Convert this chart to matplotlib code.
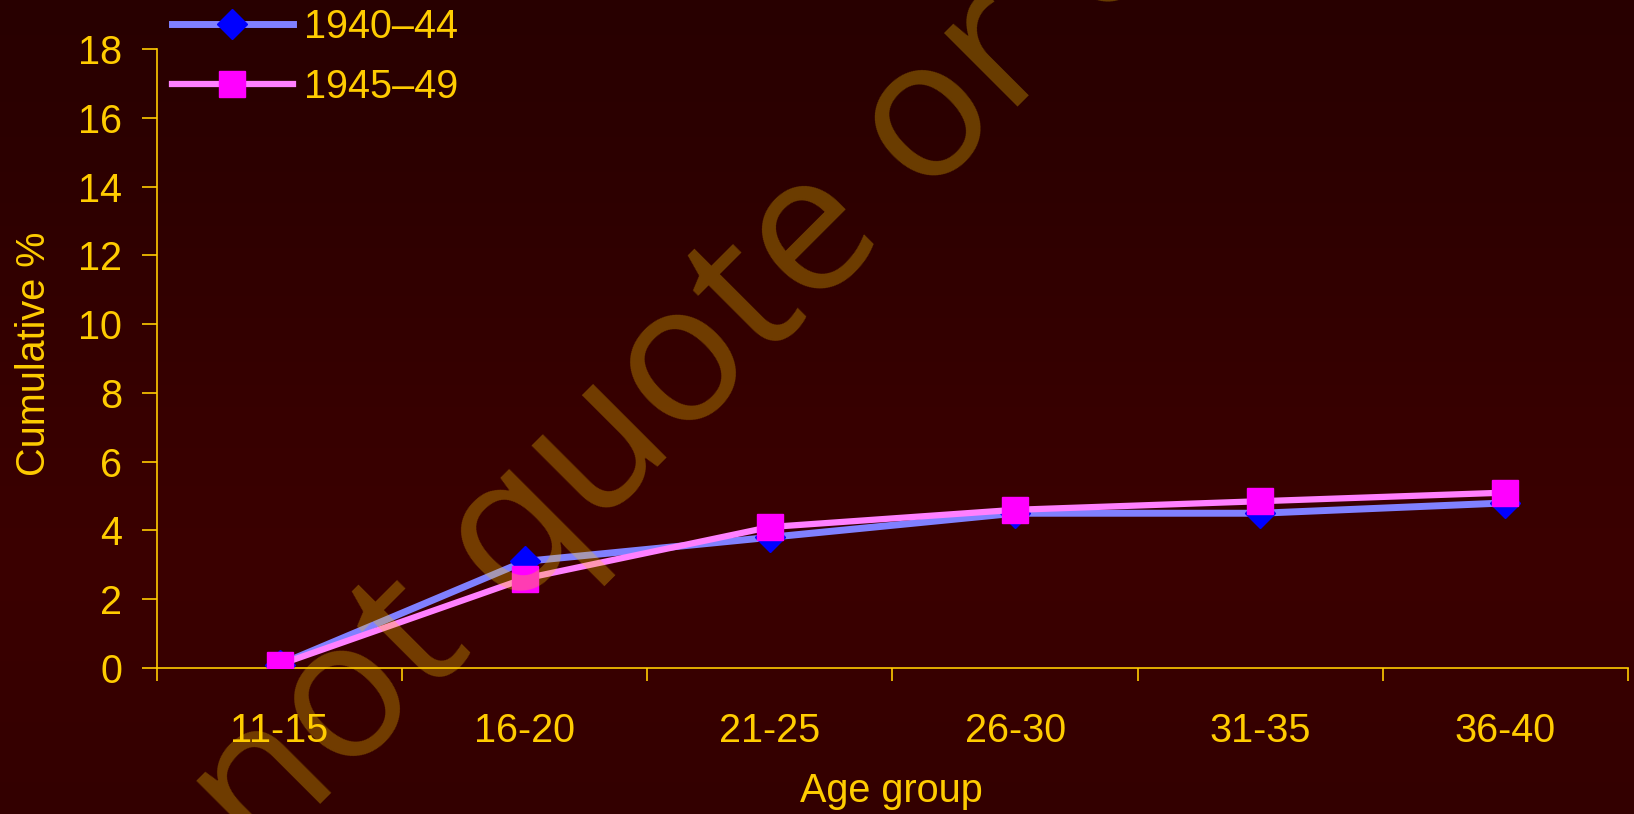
import numpy as np
import matplotlib
matplotlib.use('Agg')
import matplotlib.pyplot as plt
from matplotlib.colors import LinearSegmentedColormap

# data
age_groups = ['11-15', '16-20', '21-25', '26-30', '31-35', '36-40']
cohort_1940 = [0.1, 3.1, 3.8, 4.5, 4.5, 4.8]
cohort_1945 = [0.1, 2.6, 4.1, 4.6, 4.85, 5.1]
series_names = ['1940\u201344', '1945\u201349']

gold = '#FFCC00'
plt.rcParams['font.family'] = ['Liberation Sans', 'DejaVu Sans']

W, H = 1634, 814
fig = plt.figure(figsize=(W / 100, H / 100), dpi=100)

# background gradient (dark red, brightest a bit below the middle)
bg = fig.add_axes([0, 0, 1, 1], zorder=-10)
bg_cmap = LinearSegmentedColormap.from_list(
    'bg', [(0.0, (40/255, 0, 0)), (0.25, (46/255, 0, 0)), (0.5, (55/255, 0, 0)),
           (0.7, (59/255, 0, 0)), (1.0, (51/255, 0, 0))])
bg.imshow(np.linspace(0, 1, 256).reshape(-1, 1), aspect='auto', cmap=bg_cmap,
          extent=[0, 1, 0, 1], origin='upper')
bg.axis('off')

ax = fig.add_axes([157 / W, 1 - 668 / H, 1471 / W, 619 / H])
ax.patch.set_alpha(0)

x = np.arange(len(age_groups))
ax.plot(x, cohort_1940, color='#8080FF', lw=5, marker='D', ms=15,
        mfc='#0000FF', mec='#0000FF', label=series_names[0], zorder=3)
ax.plot(x, cohort_1945, color='#FF80FF', lw=4.5, marker='s', ms=19,
        mfc='#FF00FF', mec='#FF00FF', label=series_names[1], zorder=4)

ax.set_xlim(-0.5, len(age_groups) - 0.5)
ax.set_ylim(0, 18)
ax.set_yticks(np.arange(0, 19, 2))
ax.set_xticks(np.arange(-0.5, len(age_groups), 1))
ax.set_xticklabels([])
ax.set_xticks(x, minor=True)
ax.set_xticklabels(age_groups, minor=True)

for side in ['top', 'right']:
    ax.spines[side].set_visible(False)
for side in ['left', 'bottom']:
    ax.spines[side].set_color(gold)
    ax.spines[side].set_linewidth(1.2)

ax.tick_params(axis='y', colors=gold, labelsize=28.5, length=11, width=1.2, pad=14)
ax.tick_params(axis='x', which='major', colors=gold, length=9, width=1.2)
ax.tick_params(axis='x', which='minor', colors=gold, labelsize=28.5, length=0, pad=32)

fig.text(34 / W, 1 - 354 / H, 'Cumulative %', color=gold, fontsize=28.5,
         rotation=90, ha='center', va='center')
fig.text(891 / W, 12 / H, 'Age group', color=gold, fontsize=28.5,
         ha='center', va='baseline')

leg = fig.legend(loc='upper left', bbox_to_anchor=(172 / W, 1 - 8 / H),
                 frameon=False, fontsize=28.5, handlelength=3.05, handletextpad=0.28,
                 labelspacing=0.55, borderpad=0, borderaxespad=0)
for t in leg.get_texts():
    t.set_color(gold)

# watermark, starts below the lower-left corner
fig.text(259 / W, -52 / H, 'not quote or cite', color=gold, alpha=0.3,
         fontsize=140, family='Open Sans', rotation=45, rotation_mode='anchor',
         ha='left', va='baseline', zorder=20)

fig.savefig('out.png', dpi=100)
